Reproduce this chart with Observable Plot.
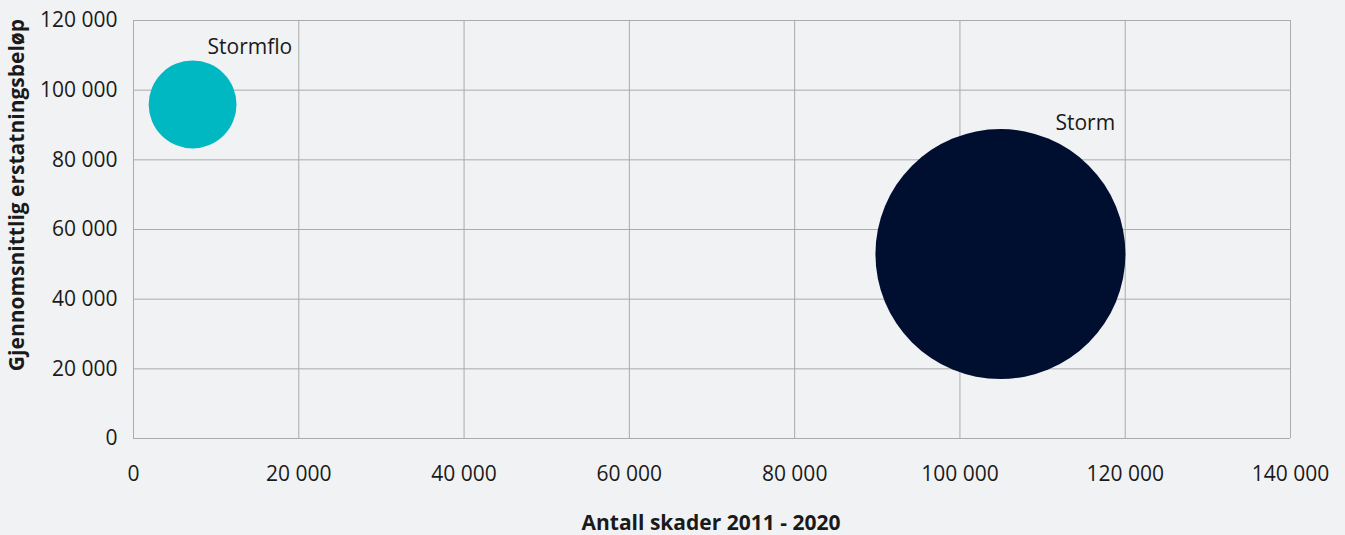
<!DOCTYPE html>
<html>
<head>
<meta charset="utf-8">
<script src="https://cdn.jsdelivr.net/npm/d3@7"></script>
<script src="https://cdn.jsdelivr.net/npm/@observablehq/plot@0.6"></script>
<style>
  html, body { margin: 0; padding: 0; background: #f1f2f4; }
  #chart { width: 1345px; height: 535px; }
  svg { font-family: "Open Sans", sans-serif; }
</style>
</head>
<body>
<div id="chart"></div>
<script>
const categories = ["Stormflo", "Storm"];
const antallSkader = [7150, 104900];          // x: Antall skader 2011 - 2020
const snittErstatning = [95900, 52950];       // y: Gjennomsnittlig erstatningsbeløp
const totalErstatning = [686e6, 5554e6];      // bubble size
const colors = ["#00b8c2", "#000f30"];
const xTicks = [0, 20000, 40000, 60000, 80000, 100000, 120000, 140000];
const yTicks = [0, 20000, 40000, 60000, 80000, 100000, 120000];

const data = categories.map((c, i) => ({
  name: c, x: antallSkader[i], y: snittErstatning[i], size: totalErstatning[i], color: colors[i]
}));

const fmt = d => d3.format(",")(d).replace(/,/g, " ");

const W = 1345, H = 535;
const FS = 21;
const plot = Plot.plot({
  width: W, height: H,
  marginLeft: 133, marginRight: 55, marginTop: 20, marginBottom: 97,
  style: { background: "#f1f2f4", fontFamily: "Open Sans, sans-serif", fontSize: FS + "px", color: "#1a1a1a" },
  x: { domain: [0, 140000], ticks: xTicks, tickFormat: fmt, label: null },
  y: { domain: [0, 120000], ticks: yTicks, tickFormat: fmt, label: null },
  r: { type: "sqrt", domain: [0, d3.max(totalErstatning)], range: [0, 125] },
  marks: [
    Plot.gridX(xTicks, { stroke: "#ababab", strokeOpacity: 1, strokeWidth: 1 }),
    Plot.gridY(yTicks, { stroke: "#ababab", strokeOpacity: 1, strokeWidth: 1 }),
    Plot.axisX(xTicks, { tickSize: 0, tickPadding: 28, tickFormat: fmt, fontSize: FS, fill: "#1a1a1a", label: null }),
    Plot.axisY(yTicks, { tickSize: 0, tickPadding: 16, tickFormat: fmt, fontSize: FS, fill: "#1a1a1a", label: null }),
    Plot.dot(data, { x: "x", y: "y", r: "size", fill: "color", stroke: "none" }),
    Plot.text(data.filter(d => d.name === "Stormflo"), { x: "x", y: "y", text: "name", textAnchor: "start", dx: 15, dy: -57, fontSize: FS, fill: "#1a1a1a" }),
    Plot.text(data.filter(d => d.name === "Storm"), { x: "x", y: "y", text: "name", textAnchor: "start", dx: 55, dy: -131, fontSize: FS, fill: "#1a1a1a" })
  ]
});

const svg = d3.select(plot);
svg.append("text")
  .attr("x", 711).attr("y", 530)
  .attr("text-anchor", "middle")
  .attr("font-size", 21).attr("font-weight", "bold").attr("fill", "#1a1a1a")
  .text("Antall skader 2011 - 2020");
svg.append("text")
  .attr("transform", "translate(24,195) rotate(-90)")
  .attr("text-anchor", "middle")
  .attr("font-size", 21).attr("font-weight", "bold").attr("fill", "#1a1a1a")
  .text("Gjennomsnittlig erstatningsbeløp");

document.getElementById("chart").appendChild(plot);
</script>
</body>
</html>
